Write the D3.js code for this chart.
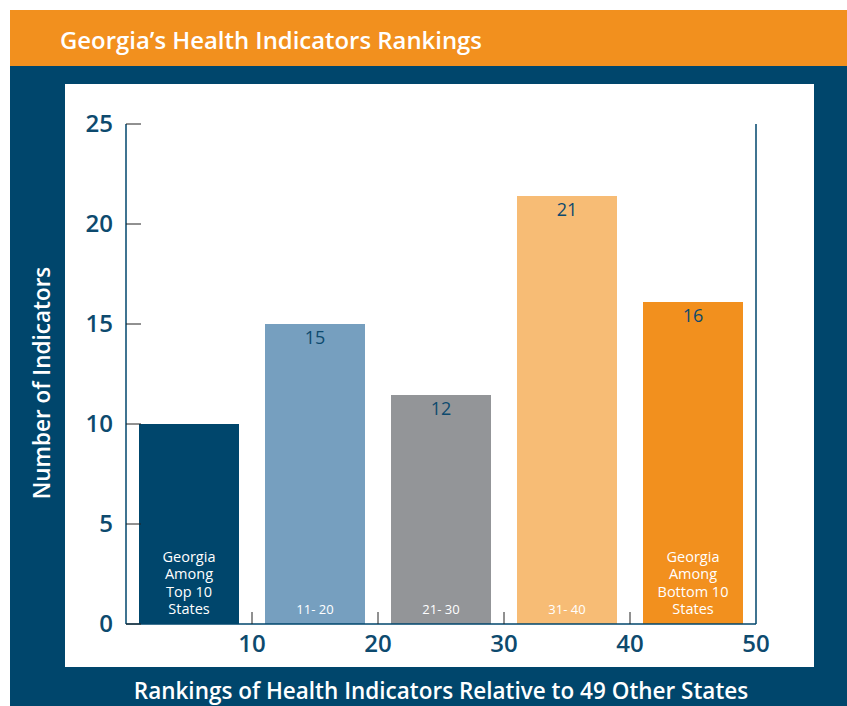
<!DOCTYPE html>
<meta charset="utf-8">
<style>
body { margin: 0; background: #fff; }
text { font-family: 'Open Sans', sans-serif; }
.tick-label { font-size: 24px; fill: #0d4a6e; font-weight: 600; }
.axis-title { font-size: 22.5px; fill: #fff; font-weight: 600; }
</style>
<body>
<script src="https://d3js.org/d3.v7.min.js"></script>
<script>

// bins of Georgia's state ranking
const binLo = [1, 11, 21, 31, 41],
      binHi = [10, 20, 30, 40, 50];
// labelled count and the bar height as actually drawn
const counts = [10, 15, 12, 21, 16],
      drawn = [10, 15, 11.45, 21.4, 16.1];
const showCount = [false, true, true, true, true];
const barText = [["Georgia", "Among", "Top 10", "States"], ["11- 20"], ["21- 30"], ["31- 40"],
                 ["Georgia", "Among", "Bottom 10", "States"]];
const barColors = ["#00466c", "#769fbf", "#939598", "#f7bc75", "#f2901e"];
const yTicks = [0, 5, 10, 15, 20, 25],
      xTicks = [10, 20, 30, 40, 50];

const width = 847, height = 706,
      navy = "#00466c", orange = "#f2901e";

let svg = d3.select("body").append("svg")
            .attr("width", width)
            .attr("height", height);

// frame
svg.append("rect").attr("x", 10).attr("y", 10).attr("width", width - 10).attr("height", 56).attr("fill", orange);
svg.append("rect").attr("x", 10).attr("y", 66).attr("width", width - 10).attr("height", height - 66).attr("fill", navy);
svg.append("rect").attr("x", 65).attr("y", 84).attr("width", 749).attr("height", 583).attr("fill", "#fff");

svg.append("text")
    .attr("x", 60).attr("y", 49)
    .attr("fill", "#fff")
    .style("font-size", "24px")
    .style("font-weight", 600)
    .attr("textLength", 422)
    .attr("lengthAdjust", "spacingAndGlyphs")
    .text("Georgia\u2019s Health Indicators Rankings");

let x = d3.scaleLinear().domain([0, 50]).range([126, 756]),
    y = d3.scaleLinear().domain([0, 25]).range([624, 124]);

let g = svg.append("g");

// bars
let bars = g.selectAll("g.bar")
    .data(d3.range(binLo.length))
    .join("g").attr("class", "bar");

const barW = 100;
const mid = i => x((binLo[i] - 1 + binHi[i]) / 2);

bars.append("rect")
    .attr("x", i => mid(i) - barW / 2)
    .attr("y", i => y(drawn[i]))
    .attr("width", barW)
    .attr("height", i => y(0) - y(drawn[i]))
    .attr("fill", i => barColors[i]);

bars.filter(i => showCount[i]).append("text")
    .attr("x", mid)
    .attr("y", i => y(drawn[i]) + 20)
    .attr("text-anchor", "middle")
    .attr("fill", "#0d4a6e")
    .style("font-size", "18px")
    .text(i => counts[i]);

bars.each(function(i) {
    const lines = barText[i], n = lines.length;
    d3.select(this).selectAll("text.inner")
        .data(lines)
        .join("text").attr("class", "inner")
        .attr("x", mid(i))
        .attr("y", (d, k) => 614 - (n - 1 - k) * 17.5)
        .attr("text-anchor", "middle")
        .attr("fill", "#fff")
        .style("font-size", n > 1 ? "14.5px" : "13px")
        .text(d => d);
});

// axes
g.append("line").attr("x1", x(0)).attr("x2", x(0)).attr("y1", y(25)).attr("y2", y(0))
    .attr("stroke", navy).attr("stroke-width", 1.5);
g.append("line").attr("x1", x(0)).attr("x2", x(50)).attr("y1", y(0)).attr("y2", y(0))
    .attr("stroke", navy).attr("stroke-width", 1.5);
g.append("line").attr("x1", x(50)).attr("x2", x(50)).attr("y1", y(25)).attr("y2", y(0))
    .attr("stroke", navy).attr("stroke-width", 1.5);

g.selectAll("line.ytick").data(yTicks).join("line").attr("class", "ytick")
    .attr("x1", x(0)).attr("x2", x(0) + 15)
    .attr("y1", d => y(d)).attr("y2", d => y(d))
    .attr("stroke", "#222").attr("stroke-width", 1);
g.selectAll("text.ylab").data(yTicks).join("text").attr("class", "ylab tick-label")
    .attr("x", 113).attr("y", d => y(d))
    .attr("dy", "0.35em")
    .attr("text-anchor", "end")
    .text(d => d);

g.selectAll("line.xtick").data(xTicks.slice(0, -1)).join("line").attr("class", "xtick")
    .attr("x1", d => x(d)).attr("x2", d => x(d))
    .attr("y1", y(0)).attr("y2", y(0) - 12)
    .attr("stroke", "#222").attr("stroke-width", 1);
g.selectAll("text.xlab").data(xTicks).join("text").attr("class", "xlab tick-label")
    .attr("x", d => x(d)).attr("y", 652)
    .attr("text-anchor", "middle")
    .text(d => d);

svg.append("text").attr("class", "axis-title")
    .attr("transform", "translate(42,383) rotate(-90)")
    .attr("dy", "0.35em")
    .attr("text-anchor", "middle")
    .text("Number of Indicators");

svg.append("text").attr("class", "axis-title")
    .attr("x", 441).attr("y", 699)
    .attr("text-anchor", "middle")
    .text("Rankings of Health Indicators Relative to 49 Other States");

</script>
